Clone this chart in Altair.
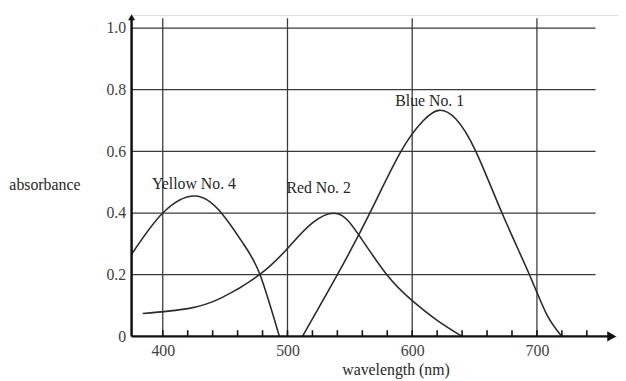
import altair as alt
import pandas as pd

# ---- data (key points on each curve) ----
yellow_nm = [375, 400, 426, 447, 465, 478, 493.5]
yellow_abs = [0.266, 0.40, 0.455, 0.40, 0.298, 0.20, 0.0]

red_nm = [384, 420, 447, 477.5, 500, 520, 540, 557, 580, 600, 620, 640]
red_abs = [0.074, 0.09, 0.125, 0.20, 0.285, 0.368, 0.398, 0.33, 0.198, 0.116, 0.052, 0.0]

blue_nm = [512, 540, 566, 591, 609, 621.5, 635, 651, 672, 694, 708, 720]
blue_abs = [0.0, 0.20, 0.40, 0.60, 0.70, 0.733, 0.705, 0.60, 0.40, 0.20, 0.07, 0.0]

series_names = ["Yellow No. 4", "Red No. 2", "Blue No. 1"]
label_nm = [425, 525, 614]
label_abs = [0.494, 0.481, 0.763]

x_ticks = [400, 500, 600, 700]
y_ticks = [0, 0.2, 0.4, 0.6, 0.8, 1.0]
minor_ticks = list(range(400, 760, 20))

x_title = "wavelength (nm)"
y_title = "absorbance"

X0, X1 = 375, 765
Y0, Y1 = 0, 1.042
xs = alt.Scale(domain=[X0, X1], nice=False, zero=False)
ys = alt.Scale(domain=[Y0, Y1], nice=False, zero=False)

FONT = "Liberation Serif"
INK = "#262626"
LABEL = "#404040"
GRID = "#3a3a3a"
FS = 16

x_axis = alt.Axis(
    values=x_ticks, domain=False, ticks=False, grid=False, title=None,
    labelFont=FONT, labelFontSize=FS, labelColor=LABEL, labelPadding=6,
    format="d")
y_axis = alt.Axis(
    values=y_ticks, domain=False, ticks=False, grid=False, title=None,
    labelFont=FONT, labelFontSize=FS, labelColor=LABEL, labelPadding=6,
    labelExpr="datum.value == 0 ? '0' : format(datum.value, '.1f')")

curves = pd.concat([
    pd.DataFrame({"nm": yellow_nm, "abs": yellow_abs, "s": series_names[0]}),
    pd.DataFrame({"nm": red_nm, "abs": red_abs, "s": series_names[1]}),
    pd.DataFrame({"nm": blue_nm, "abs": blue_abs, "s": series_names[2]}),
])
labels = pd.DataFrame({"nm": label_nm, "abs": label_abs, "t": series_names})

hgrid_df = pd.DataFrame({"x": X0, "x2": 747, "y": [v for v in y_ticks if v > 0]})
vgrid_df = pd.DataFrame({"x": x_ticks, "y": 0.0, "y2": 1.032})
tick_df = pd.DataFrame({"x": minor_ticks, "y": 0.0, "y2": 0.02})
yax_df = pd.DataFrame({"x": [X0], "y": [0.0], "y2": [1.035]})
xax_df = pd.DataFrame({"x": [X0], "x2": [760], "y": [0.0]})
arrx_df = pd.DataFrame({"x": [760], "y": [0.0]})
arry_df = pd.DataFrame({"x": [X0], "y": [1.035]})
titles_df = pd.DataFrame({"x": [587.0], "y": [-0.11], "t": [x_title]})
ytitle_df = pd.DataFrame({"x": [305.5], "y": [0.49], "t": [y_title]})


def X(f):
    return alt.X(f, type="quantitative", scale=xs, axis=x_axis)


def Y(f):
    return alt.Y(f, type="quantitative", scale=ys, axis=y_axis)


hgrid = alt.Chart(hgrid_df).mark_rule(color=GRID, strokeWidth=1.3).encode(
    x=X("x"), x2="x2", y=Y("y"))
vgrid = alt.Chart(vgrid_df).mark_rule(color=GRID, strokeWidth=1.3).encode(
    x=X("x"), y=Y("y"), y2="y2")
ticks = alt.Chart(tick_df).mark_rule(color="#111111", strokeWidth=1.6).encode(
    x=X("x"), y=Y("y"), y2="y2")
yaxis_line = alt.Chart(yax_df).mark_rule(color="#111111", strokeWidth=2.5).encode(
    x=X("x"), y=Y("y"), y2="y2")
xaxis_line = alt.Chart(xax_df).mark_rule(color="#111111", strokeWidth=2.5).encode(
    x=X("x"), x2="x2", y=Y("y"))
arrow_x = alt.Chart(arrx_df).mark_point(
    shape="triangle-right", filled=True, color="#111111", size=110, opacity=1
).encode(x=X("x"), y=Y("y"))
arrow_y = alt.Chart(arry_df).mark_point(
    shape="triangle-up", filled=True, color="#111111", size=50, opacity=1
).encode(x=X("x"), y=Y("y"))

lines = alt.Chart(curves).mark_line(
    color="#2a2a2a", strokeWidth=1.6, interpolate="natural"
).encode(x=X("nm"), y=Y("abs"), detail="s:N")

series_labels = alt.Chart(labels).mark_text(
    font=FONT, fontSize=FS, color=INK, baseline="middle", align="center"
).encode(x=X("nm"), y=Y("abs"), text="t:N")

xtitle = alt.Chart(titles_df).mark_text(
    font=FONT, fontSize=FS, color=INK, baseline="middle", align="center"
).encode(x=X("x"), y=Y("y"), text="t:N")

ytitle = alt.Chart(ytitle_df).mark_text(
    font=FONT, fontSize=FS, color=INK, baseline="middle", align="center"
).encode(x=X("x"), y=Y("y"), text="t:N")

chart = alt.layer(
    hgrid, vgrid, ticks, lines, yaxis_line, xaxis_line, arrow_x, arrow_y,
    series_labels, xtitle, ytitle
).properties(
    width=492, height=325,
    autosize=alt.AutoSizeParams(type="none"),
    padding={"left": 125, "top": 5, "right": 0, "bottom": 45},
).configure_view(stroke=None).configure(background="white")

chart.save("out.html", embed_options={"renderer": "svg", "actions": False})
